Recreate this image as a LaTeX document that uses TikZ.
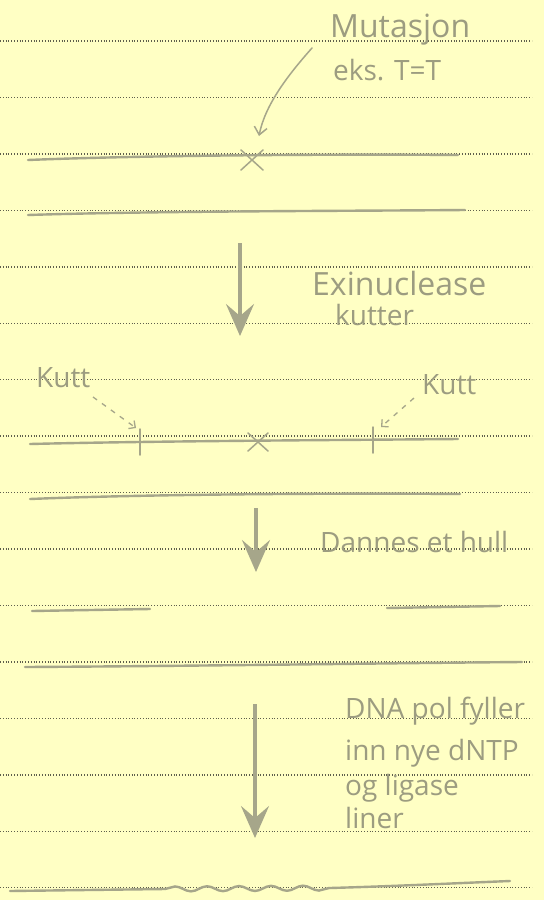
\documentclass[tikz,border=0pt]{standalone}
\usepackage{fontspec}
\setmainfont{Open Sans}
\usetikzlibrary{arrows.meta,decorations.pathmorphing,calc}
\definecolor{paper}{HTML}{FFFFC4}
\definecolor{pencil}{HTML}{A6A68A}
\definecolor{penciltext}{HTML}{9C9C80}
\definecolor{dotink}{HTML}{5E5E4C}
\begin{document}
\begin{tikzpicture}[x=1pt,y=-1pt,
  ruled/.style={dotink, line width=1.4pt, dash pattern=on 1pt off 1.8pt},
  strand/.style={pencil, line width=2.4pt, line cap=round},
  note/.style={penciltext, font=\fontsize{28}{32}\selectfont, anchor=base west, inner sep=0pt},
  bignote/.style={note, font=\fontsize{32}{36}\selectfont},
  bigarrow/.style={pencil, line width=3.2pt, -{Stealth[length=32pt,width=28pt,inset=12pt]}},
  thinpen/.style={pencil, line width=1.5pt, line cap=round},
  kuttarrow/.style={pencil, line width=1.3pt, dash pattern=on 5pt off 6pt, -{Straight Barb[angle=90:7pt]}},
  ]
\fill[paper] (0,0) rectangle (544,900);
\useasboundingbox (0,0) rectangle (544,900);
\foreach \k in {0,...,15} \draw[ruled] (0,{41+56.45*\k}) -- (532,{41+56.45*\k});

% --- step 1: mutation
\node[bignote] (mut1) at (330,37) {Mutasjon};
\node[note] (mut2) at (333,80) {eks. T=T};
\coordinate (x1) at (252,160);
\draw[thinpen] ($(x1)+(-11,-10)$) -- ($(x1)+(11,10)$);
\draw[thinpen] ($(x1)+(-11,10)$) -- ($(x1)+(11,-10)$);
\coordinate (mutstart) at (312,48);
\coordinate (mutend) at (259,136);
\draw[thinpen, -{Straight Barb[angle=80:10pt]}] (mutstart) .. controls (288,75) and (265,105) .. (mutend);
\draw[strand] (28,160) .. controls (150,155) and (350,154) .. (458,155);
\draw[strand] (28,215) .. controls (150,211) and (350,211) .. (465,210);

% --- step 2: exinuclease
\coordinate (a1s) at (240,243);
\coordinate (a1e) at (240,336);
\draw[bigarrow] (a1s) -- (a1e);
\node[bignote] (exi) at (312,295) {Exinuclease};
\node[note] (kut) at (335,325) {kutter};

\node[note] (kl) at (36,387) {Kutt};
\node[note] (kr) at (422,394) {Kutt};
\coordinate (t1) at (140,442);
\coordinate (t2) at (373,440);
\coordinate (x2) at (258,442);
\draw[kuttarrow] (93,397) -- (136,428);
\draw[kuttarrow] (414,398) -- (381,427);
\draw[strand] (30,444) .. controls (150,441) and (350,440) .. (458,439);
\draw[thinpen] ($(t1)+(0,-13)$) -- ($(t1)+(0,13)$);
\draw[thinpen] ($(t2)+(0,-13)$) -- ($(t2)+(0,13)$);
\draw[thinpen] ($(x2)+(-10,-9)$) -- ($(x2)+(10,9)$);
\draw[thinpen] ($(x2)+(-10,9)$) -- ($(x2)+(10,-9)$);
\draw[strand] (30,499) .. controls (150,494) and (350,493) .. (460,494);

% --- step 3: hull
\coordinate (a2s) at (256,508);
\coordinate (a2e) at (256,572);
\draw[bigarrow] (a2s) -- (a2e);
\node[note] (hull) at (320,552) {Dannes et hull};
\draw[strand] (32,611) -- (150,609);
\draw[strand] (387,608) -- (500,606);
\draw[strand] (25,667) .. controls (200,666) and (400,663) .. (522,662);

% --- step 4: DNA pol
\coordinate (a3s) at (255,704);
\coordinate (a3e) at (255,838);
\draw[bigarrow] (a3s) -- (a3e);
\node[note] (d1) at (345,718) {DNA pol fyller};
\node[note] (d2) at (345,760) {inn nye dNTP};
\node[note] (d3) at (345,795) {og ligase};
\node[note] (d4) at (345,828) {liner};

\draw[strand] (10,891) -- (165,889);
\draw[strand, decorate, decoration={snake, amplitude=2.5pt, segment length=32pt}] (165,889) -- (330,888);
\draw[strand] (330,888) .. controls (400,886) and (460,883) .. (510,881);
\end{tikzpicture}
\end{document}
